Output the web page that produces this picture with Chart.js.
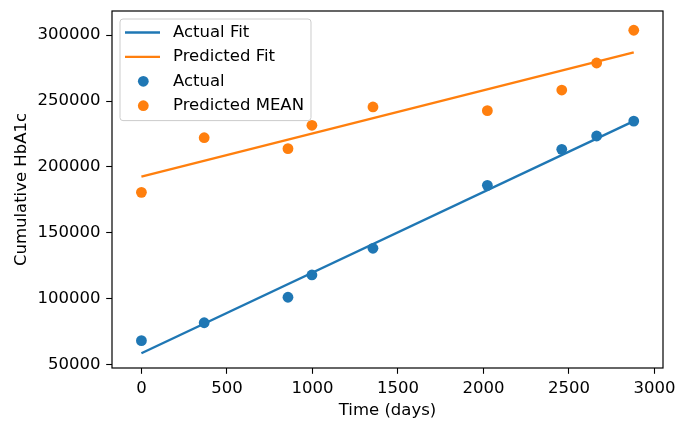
<!DOCTYPE html>
<html>
<head>
<meta charset="utf-8">
<script src="https://cdn.jsdelivr.net/npm/chart.js@4/dist/chart.umd.min.js"></script>
<style>
  html, body { margin: 0; padding: 0; background: #fff; }
  #wrap { width: 675px; height: 422px; }
</style>
</head>
<body>
<div id="wrap"><canvas id="chart" width="675" height="422"></canvas></div>
<script>
// data
const days = [0, 367, 857, 997, 1354, 2023, 2458, 2662, 2879];
const actual = [68400, 82000, 101300, 118200, 138400, 186100, 213400, 223500, 234800];
const predictedMean = [180800, 222200, 213900, 231600, 245500, 242700, 258300, 278800, 303600];

const fitDays = [0, 2879];
const actualFit = [58900, 234800];
const predictedFit = [192700, 286900];

const xTicks = [0, 500, 1000, 1500, 2000, 2500, 3000];
const yTicks = [50000, 100000, 150000, 200000, 250000, 300000];

const BLUE = '#1f77b4';
const ORANGE = '#ff7f0e';
const FONT = 'DejaVu Sans';
const FSIZE = 16.5;

const pts = (xs, ys) => xs.map((x, i) => ({ x: x, y: ys[i] }));

// top/right spines + legend inside the axes
const framePlugin = {
    id: 'frame',
    afterDatasetsDraw(chart) {
        const { ctx, chartArea: a } = chart;
        ctx.save();
        ctx.strokeStyle = '#000';
        ctx.lineWidth = 1.2;
        ctx.strokeRect(a.left, a.top, a.right - a.left, a.bottom - a.top);

        // legend
        const ds = chart.data.datasets;
        ctx.font = FSIZE + 'px "' + FONT + '"';
        let maxW = 0;
        ds.forEach(d => { maxW = Math.max(maxW, ctx.measureText(d.label).width); });
        const bx = a.left + 8, by = a.top + 8;
        const rowH = 24.4;
        const textX = bx + 53;
        const bw = textX - bx + maxW + 7;
        const bh = rowH * ds.length + 4;
        ctx.beginPath();
        ctx.roundRect(bx, by, bw, bh, 3);
        ctx.fillStyle = 'rgba(255,255,255,0.8)';
        ctx.fill();
        ctx.strokeStyle = '#cccccc';
        ctx.lineWidth = 1;
        ctx.stroke();
        ds.forEach((d, i) => {
            const cy = by + 13.5 + i * rowH;
            if (d.showLine) {
                ctx.beginPath();
                ctx.strokeStyle = d.borderColor;
                ctx.lineWidth = 2.4;
                ctx.moveTo(bx + 5, cy);
                ctx.lineTo(bx + 40, cy);
                ctx.stroke();
            } else {
                ctx.beginPath();
                ctx.fillStyle = d.backgroundColor;
                ctx.arc(bx + 23.3, cy, 5.4, 0, Math.PI * 2);
                ctx.fill();
            }
            ctx.fillStyle = '#000';
            ctx.textBaseline = 'middle';
            ctx.textAlign = 'left';
            ctx.fillText(d.label, textX, cy);
        });
        ctx.restore();
    }
};

new Chart(document.getElementById('chart'), {
    type: 'scatter',
    data: {
        datasets: [
            { label: 'Actual Fit', data: pts(fitDays, actualFit), showLine: true,
              borderColor: BLUE, backgroundColor: BLUE, borderWidth: 2.4, pointRadius: 0 },
            { label: 'Predicted Fit', data: pts(fitDays, predictedFit), showLine: true,
              borderColor: ORANGE, backgroundColor: ORANGE, borderWidth: 2.4, pointRadius: 0 },
            { label: 'Actual', data: pts(days, actual), showLine: false,
              backgroundColor: BLUE, borderWidth: 0, pointRadius: 5.4 },
            { label: 'Predicted MEAN', data: pts(days, predictedMean), showLine: false,
              backgroundColor: ORANGE, borderWidth: 0, pointRadius: 5.4 }
        ]
    },
    options: {
        responsive: false,
        animation: false,
        layout: { padding: { left: 0, right: 12, top: 11, bottom: 0 } },
        plugins: { legend: { display: false }, tooltip: { enabled: false } },
        scales: {
            x: {
                type: 'linear',
                min: -172,
                max: 3050,
                afterBuildTicks: s => { s.ticks = xTicks.map(v => ({ value: v })); },
                afterFit: s => { s.height = 54; s.paddingLeft = 0; s.paddingRight = 0; },
                ticks: { font: { family: FONT, size: FSIZE }, color: '#000', padding: 5, maxRotation: 0,
                         autoSkip: false, callback: v => String(v) },
                grid: { display: true, drawOnChartArea: false, tickLength: 5.8, tickColor: '#000', tickWidth: 1.1 },
                border: { display: false },
                title: { display: true, text: 'Time (days)', font: { family: FONT, size: FSIZE }, color: '#000',
                         padding: { top: 0, bottom: 1.5 } }
            },
            y: {
                type: 'linear',
                min: 47700,
                max: 318200,
                afterBuildTicks: s => { s.ticks = yTicks.map(v => ({ value: v })); },
                afterFit: s => { s.width = 112; s.paddingTop = 0; s.paddingBottom = 0; },
                ticks: { font: { family: FONT, size: FSIZE }, color: '#000', padding: 5.6, autoSkip: false,
                         callback: v => String(v) },
                grid: { display: true, drawOnChartArea: false, tickLength: 5.8, tickColor: '#000', tickWidth: 1.1 },
                border: { display: false },
                title: { display: true, text: 'Cumulative HbA1c', font: { family: FONT, size: FSIZE }, color: '#000',
                         padding: { top: 11.5, bottom: 0 } }
            }
        }
    },
    plugins: [framePlugin]
});
</script>
</body>
</html>
